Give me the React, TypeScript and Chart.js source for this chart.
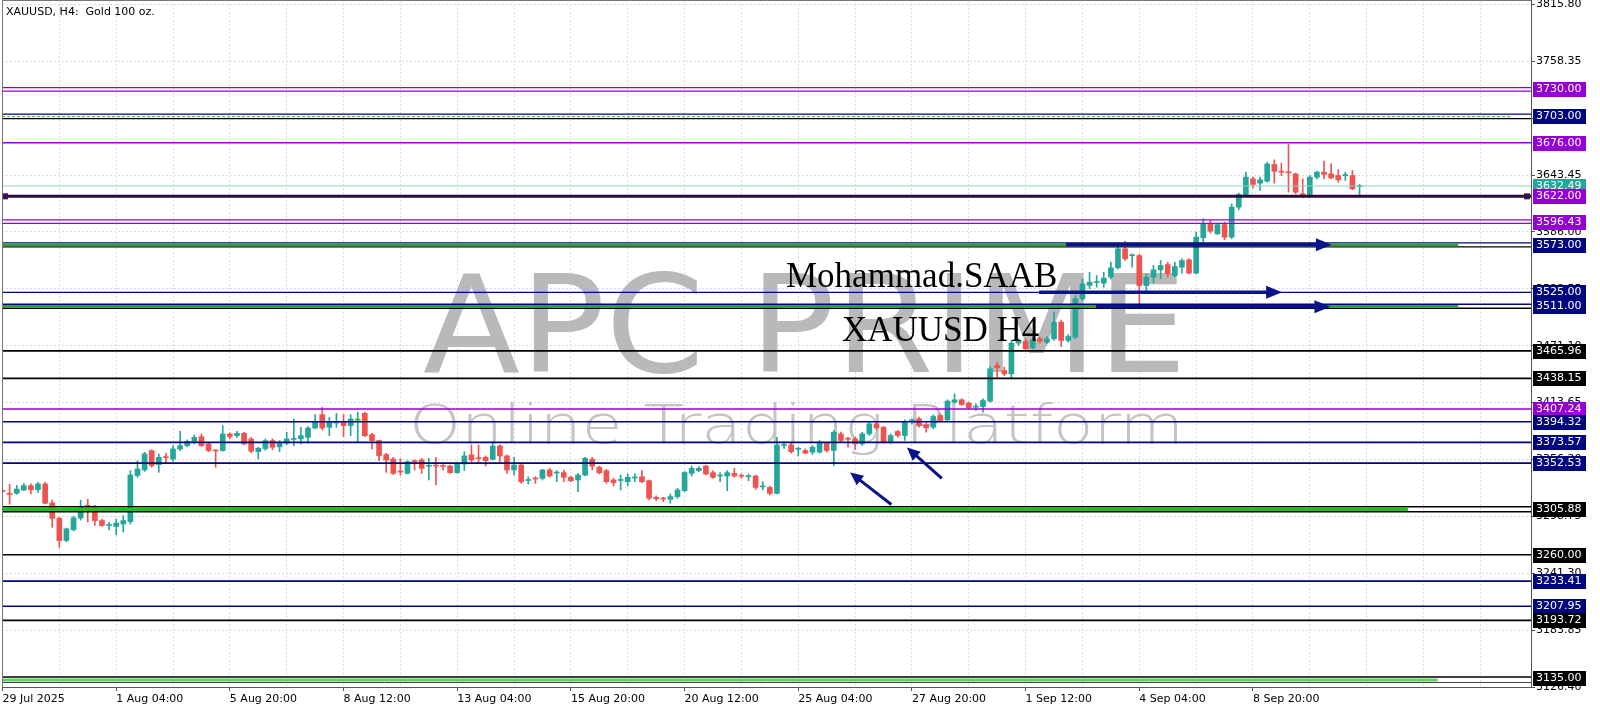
import { useEffect, useRef } from 'react';
import { Chart, registerables } from 'chart.js';

Chart.register(...registerables);

// ---------------- DATA ----------------
const OPEN = [
  3325, 3322, 3322, 3325.4, 3329.8, 3325.7, 3331.5, 3312.3, 3296.8, 3274.4,
  3285.2, 3297, 3310, 3309, 3294.5, 3289.5, 3288.5, 3291, 3293.4, 3340,
  3345.6, 3365.2, 3351, 3358.8, 3356.7, 3366.8, 3370.2, 3373.6, 3379.3, 3371.9,
  3365.5, 3365.2, 3382, 3380.3, 3382.6, 3376.9, 3364.1, 3367.2, 3375.3, 3369,
  3372.6, 3376.5, 3377, 3378.6, 3388, 3401.5, 3388.7, 3393, 3393.8, 3390.4,
  3396, 3402.8, 3381.3, 3375.3, 3361.1, 3356.7, 3344, 3342.2, 3354.5, 3355.7,
  3349.3, 3350.3, 3350, 3349.6, 3342.9, 3351.6, 3360.8, 3357.4, 3358.4, 3356.4,
  3369.9, 3359.8, 3345.6, 3350.6, 3335, 3337, 3337.2, 3345.6, 3342.5, 3342.9,
  3338.2, 3335.5, 3340.5, 3356.4, 3348.3, 3344.9, 3335.5, 3335, 3333.8, 3337.5,
  3338.8, 3334.8, 3318, 3317, 3316, 3318.7, 3324.7, 3342.2, 3345, 3349.6,
  3342.9, 3339.5, 3339.5, 3342.2, 3340, 3338.8, 3339.5, 3328.5, 3328, 3322,
  3370.2, 3371, 3366.5, 3365.3, 3363.6, 3363.6, 3372.7, 3365.3, 3382.1, 3377.2,
  3377, 3372, 3382.1, 3392.2, 3388.8, 3373.7, 3384.5, 3380.4, 3395.3, 3397.3,
  3391.2, 3388.8, 3400.6, 3396.3, 3414.1, 3416.5, 3413.1, 3409, 3409.7, 3415.1,
  3451.1, 3446.1, 3442.7, 3473.7, 3475.7, 3469, 3478.1, 3474.7, 3478.1, 3494.9,
  3476.4, 3479.8, 3518.5, 3532, 3535, 3534.3, 3540.4, 3549.8, 3569, 3562,
  3562.2, 3531.9, 3540.4, 3547.8, 3553.1, 3542, 3550.5, 3557.9, 3544.4, 3580.1,
  3594.2, 3584.1, 3593.5, 3580.8, 3611.1, 3622.8, 3639.7, 3635.3, 3637.3, 3654.2,
  3647, 3646.4, 3644.7, 3624.5, 3621.8, 3641.4, 3646.4, 3644.7, 3643.1, 3643,
  3643, 3632,
];
const HIGH = [
  3326, 3331, 3330, 3332, 3331.5, 3333.2, 3333.2, 3315.3, 3298, 3287,
  3299, 3315, 3316, 3310, 3296, 3292.8, 3296, 3299.5, 3345, 3355,
  3363.5, 3366, 3361.8, 3362.5, 3370.2, 3384.7, 3376, 3381, 3382, 3373.6,
  3366, 3390.4, 3383, 3384.7, 3383.7, 3378.6, 3368.5, 3377, 3377, 3375.3,
  3383.7, 3397.1, 3388.7, 3389.4, 3401.5, 3409, 3398.8, 3402.8, 3401.5, 3401.5,
  3403.9, 3403.9, 3382.6, 3375.9, 3362.5, 3358.4, 3357, 3355, 3355.7, 3357.4,
  3357.4, 3358.4, 3351, 3350.6, 3353, 3364.1, 3370.9, 3370.9, 3359.8, 3374.3,
  3370.9, 3360.8, 3358.4, 3351.6, 3338.8, 3338.8, 3346.3, 3347.3, 3345, 3345.6,
  3339.5, 3342.2, 3358.4, 3358.4, 3349.6, 3346.3, 3337.2, 3340.5, 3341.6, 3341.6,
  3345, 3335.5, 3319.4, 3318, 3321.4, 3327.1, 3344, 3349.6, 3349, 3350.6,
  3344.9, 3343, 3344.9, 3347.3, 3341.6, 3341.6, 3340.5, 3333.8, 3329.4, 3378.6,
  3374.3, 3372.6, 3368.5, 3367, 3370.3, 3375.4, 3373.7, 3385.5, 3383.8, 3378.8,
  3378.8, 3383.8, 3393.9, 3393.9, 3389.5, 3382.1, 3385.5, 3396.3, 3397.3, 3399,
  3392.9, 3401.3, 3402.3, 3416.5, 3422.5, 3417.5, 3414.1, 3412.4, 3417.5, 3449.5,
  3454.5, 3449.5, 3476.4, 3478.1, 3478.1, 3479.1, 3479.8, 3480.4, 3505, 3496.9,
  3482.4, 3521.8, 3538.7, 3545.4, 3542, 3545.4, 3555.5, 3570.7, 3576.7, 3563.9,
  3563.3, 3543.7, 3552.1, 3557.2, 3555.5, 3555.5, 3558.9, 3558.9, 3585.8, 3599.3,
  3597.6, 3594.9, 3595.9, 3614.4, 3625.2, 3646.4, 3641.4, 3641.4, 3656.5, 3658.9,
  3655.5, 3674.4, 3645.4, 3639.7, 3643, 3647.4, 3657.5, 3654.8, 3648.8, 3646.4,
  3648.1, 3634,
];
const LOW = [
  3323, 3311, 3321, 3324.7, 3321.4, 3323, 3311.3, 3287.7, 3267.6, 3273,
  3284, 3295, 3293, 3289.5, 3288.5, 3285, 3280, 3283, 3291, 3338,
  3344.2, 3348.3, 3343.2, 3352.4, 3354.4, 3365.2, 3369, 3372, 3369.2, 3364.1,
  3348.3, 3364.5, 3377, 3378.6, 3371.2, 3363, 3356.7, 3365.5, 3366, 3364,
  3371.2, 3370.2, 3372, 3372.6, 3387, 3386, 3380.3, 3388.7, 3379.3, 3380.3,
  3373.6, 3379.3, 3366.8, 3355, 3343.2, 3340.9, 3340.5, 3341.6, 3345.6, 3342.2,
  3335.5, 3330.5, 3345.6, 3342.2, 3342.2, 3345, 3354, 3353, 3349.6, 3355.7,
  3354, 3342.2, 3340.5, 3332.1, 3331.5, 3332.1, 3335.5, 3338.2, 3333.8, 3333.8,
  3333.8, 3323.7, 3339.5, 3345.6, 3341.6, 3332.1, 3329.4, 3325.4, 3329.4, 3333.8,
  3332.8, 3315.3, 3314.7, 3313.6, 3312, 3317, 3323.7, 3339.5, 3343.9, 3340.5,
  3337.2, 3333.8, 3324.7, 3338.2, 3337.2, 3334.8, 3326, 3325.4, 3320.4, 3321.4,
  3367.5, 3362.5, 3359.8, 3361.9, 3361.2, 3362.6, 3363.6, 3350.1, 3373.7, 3368.6,
  3366, 3370.3, 3380.4, 3386.2, 3372.7, 3372, 3378.8, 3375.4, 3392.2, 3388.8,
  3383.8, 3387.2, 3393.9, 3394.9, 3413.1, 3410.7, 3407.4, 3405.7, 3404, 3414.1,
  3439.4, 3441, 3437.7, 3471.4, 3466.3, 3468, 3473.7, 3473, 3476.4, 3470.4,
  3474.7, 3478.1, 3516.8, 3528.6, 3530.3, 3530.3, 3538.7, 3548.8, 3557.2, 3550.5,
  3511.7, 3525.2, 3534.3, 3538.7, 3540.4, 3540.4, 3544.4, 3543.7, 3543.7, 3575.7,
  3584.8, 3583.5, 3578.1, 3579.1, 3608.4, 3621.8, 3630.6, 3627.9, 3636.3, 3635.3,
  3643, 3626.2, 3624.5, 3620.5, 3620.5, 3639.7, 3639.7, 3639.7, 3636.3, 3638,
  3628.6, 3621.2,
];
const CLOSE = [
  3324, 3321, 3326.4, 3329.8, 3325.7, 3331.5, 3312, 3296.8, 3274.4, 3286.2,
  3297.3, 3308, 3308, 3294.5, 3289.5, 3290, 3292, 3294.5, 3340.6, 3346.6,
  3361.8, 3350, 3358.4, 3358, 3366.8, 3370.2, 3374.6, 3378.6, 3370.2, 3365.2,
  3364.8, 3382, 3379.3, 3382.6, 3371.9, 3364.5, 3367.5, 3375.3, 3368.5, 3373.6,
  3377, 3377.2, 3380.3, 3388, 3394.8, 3388, 3393.8, 3394, 3390.4, 3397.1,
  3396.4, 3380.3, 3375.3, 3360.1, 3355.7, 3342.2, 3343.5, 3354, 3354, 3347.3,
  3350, 3349.6, 3349.3, 3342.9, 3351.6, 3359.8, 3355.7, 3357, 3355, 3369.9,
  3359.8, 3345.6, 3350.6, 3333.8, 3335.5, 3336.5, 3345.6, 3339.5, 3343, 3338.2,
  3334.8, 3340.5, 3357.4, 3349.6, 3342.9, 3333.8, 3332.8, 3335.8, 3338.2, 3338.4,
  3333.8, 3317, 3316.6, 3316.3, 3318.7, 3325.4, 3343, 3347.3, 3347.3, 3341.6,
  3338.2, 3340, 3342.9, 3339.5, 3339.3, 3339.2, 3328, 3329.5, 3322, 3370.9,
  3371, 3364.1, 3367, 3362.6, 3368.6, 3373.7, 3365.3, 3383.8, 3375.4, 3376.6,
  3372, 3382.1, 3392.2, 3388.2, 3373.7, 3380.4, 3380.4, 3393.9, 3395.6, 3390.5,
  3388.2, 3399.6, 3395.6, 3415.1, 3416.5, 3411.7, 3408.4, 3409.4, 3415.8, 3447.8,
  3448.8, 3442.7, 3473.7, 3476.4, 3468, 3477.1, 3475.7, 3478.1, 3494.9, 3476.4,
  3480.4, 3518.5, 3533.6, 3535.3, 3535.5, 3539.4, 3549.8, 3569, 3558.9, 3562.5,
  3531.9, 3540.4, 3547.8, 3552.1, 3543.7, 3551.1, 3557.2, 3544.4, 3580.8, 3594.2,
  3586.8, 3593.5, 3580.8, 3611.1, 3623.9, 3641.4, 3634, 3638.7, 3654.8, 3647.4,
  3646.4, 3645.7, 3626.2, 3621.8, 3641.4, 3646.4, 3644.1, 3640.7, 3638.7, 3643.5,
  3629.6, 3632.49,
];

const X_LABELS = [
  '29 Jul 2025', '1 Aug 04:00', '5 Aug 20:00', '8 Aug 12:00', '13 Aug 04:00', '15 Aug 20:00',
  '20 Aug 12:00', '25 Aug 04:00', '27 Aug 20:00', '1 Sep 12:00', '4 Sep 04:00', '8 Sep 20:00',
];
const BARS_PER_LABEL = 16;
const Y_TICKS = [
  3815.8, 3758.35, 3700.9, 3643.45, 3586.0, 3528.55, 3471.1, 3413.65, 3356.2,
  3298.75, 3241.3, 3183.85, 3126.4,
];
const Y_MIN = 3126.4;
const Y_MAX = 3820.3;
const X_MIN = -0.07;
const X_MAX = 215.13;

// horizontal price levels (values)
const LEVEL_PRICES = [
  3730.0, 3703.0, 3676.0, 3632.49, 3622.0, 3596.43, 3573.0, 3525.0, 3511.0, 3465.96,
  3438.15, 3407.24, 3394.32, 3373.57, 3352.53, 3305.88, 3260.0, 3233.41, 3207.95,
  3193.72, 3135.0,
];

// ---------------- STYLE ----------------
const PURPLE = '#9400d3';
const NAVY = '#00067e';
const TEAL_BOX = '#26a69a';
const BULL = '#26a69a';
const BEAR = '#ef5350';
const FONT = '"DejaVu Sans", "Liberation Sans", sans-serif';

const LEVEL_STYLE = [
  'pd', 'ng', 'p', 'cur', 'dk', 'pd', 'gb', 'n1', 'gb', 'k',
  'k', 'p', 'n', 'n', 'n', 'gbb', 'k', 'n', 'n',
  'k', 'gbl',
];
const LEVEL_BOX = [
  PURPLE, NAVY, PURPLE, TEAL_BOX, PURPLE, PURPLE, NAVY, NAVY, NAVY, '#000',
  '#000', PURPLE, NAVY, NAVY, NAVY, '#000', '#000', NAVY, NAVY,
  '#000', '#000',
];
// bar index where the green filling of a band stops
const GREEN_END: Record<string, number> = { gb: 204.9, gbb: 197.8, gbl: 202 };

// arrows: [barFrom, priceFrom, barTo, priceTo, lineWidth]
const ARROWS: number[][] = [
  [149.7, 3573.0, 187.1, 3573.0, 3.5],
  [145.9, 3525.0, 180.1, 3525.0, 3.5],
  [153.9, 3510.5, 186.9, 3510.5, 3.5],
  [125.1, 3310.7, 119.3, 3343.0, 3],
  [132.2, 3337.0, 127.3, 3368.3, 3],
];

function hline(ctx: CanvasRenderingContext2D, y: number, color: string, w: number, x0: number, x1: number, dash: number[] = []) {
  ctx.beginPath();
  ctx.setLineDash(dash);
  ctx.strokeStyle = color;
  ctx.lineWidth = w;
  ctx.moveTo(x0, y);
  ctx.lineTo(x1, y);
  ctx.stroke();
  ctx.setLineDash([]);
}

function arrow(ctx: CanvasRenderingContext2D, x0: number, y0: number, x1: number, y1: number, w: number) {
  const ang = Math.atan2(y1 - y0, x1 - x0);
  const hl = w > 3.2 ? 16 : 13;
  const hw = w > 3.2 ? 6.5 : 6;
  const bx = x1 - hl * Math.cos(ang);
  const by = y1 - hl * Math.sin(ang);
  ctx.strokeStyle = '#0a1488';
  ctx.fillStyle = '#0a1488';
  ctx.lineWidth = w;
  ctx.beginPath();
  ctx.moveTo(x0, y0);
  ctx.lineTo(bx + Math.cos(ang), by + Math.sin(ang));
  ctx.stroke();
  ctx.beginPath();
  ctx.moveTo(x1, y1);
  ctx.lineTo(bx + hw * Math.sin(ang), by - hw * Math.cos(ang));
  ctx.lineTo(bx - hw * Math.sin(ang), by + hw * Math.cos(ang));
  ctx.closePath();
  ctx.fill();
}

const overlay = {
  id: 'overlay',
  beforeDatasetsDraw(chart: any) {
    const { ctx, chartArea: a } = chart;
    ctx.save();
    ctx.beginPath();
    ctx.rect(a.left, a.top, a.right - a.left, a.bottom - a.top);
    ctx.clip();
    // watermark logo
    ctx.fillStyle = '#b9b9b9';
    ctx.textBaseline = 'alphabetic';
    ctx.textAlign = 'left';
    ctx.font = `136px ${FONT}`;
    const t1 = 'APC PRIME';
    const w1 = ctx.measureText(t1).width;
    ctx.save();
    ctx.translate(423, 372);
    ctx.scale(764 / w1, 1);
    ctx.fillText(t1, 0, 0);
    ctx.restore();
    ctx.fillStyle = '#c4c4c4';
    ctx.font = `200 54px ${FONT}`;
    const t2 = 'Online Trading Platform';
    const w2 = ctx.measureText(t2).width;
    ctx.save();
    ctx.translate(409, 443);
    ctx.scale(775 / w2, 1);
    ctx.fillText(t2, 0, 0);
    ctx.restore();
    ctx.restore();
  },
  afterDatasetsDraw(chart: any) {
    const { ctx, chartArea: a, scales } = chart;
    const ys = scales.y;
    const xs = scales.x;
    const L = a.left;
    const R = a.right;
    ctx.save();
    ctx.beginPath();
    ctx.rect(a.left, a.top, a.right - a.left, a.bottom - a.top);
    ctx.clip();
    LEVEL_PRICES.forEach((p, i) => {
      const y = ys.getPixelForValue(p);
      const st = LEVEL_STYLE[i];
      switch (st) {
        case 'p':
          hline(ctx, y, PURPLE, 1.5, L, R);
          break;
        case 'pd':
          hline(ctx, y - 1.8, PURPLE, 1.3, L, R);
          hline(ctx, y + 1.8, PURPLE, 1.3, L, R);
          break;
        case 'n':
          hline(ctx, y, NAVY, 1.7, L, R);
          break;
        case 'n1':
          hline(ctx, y, NAVY, 1.2, L, R);
          break;
        case 'k':
          hline(ctx, y, '#000', 1.7, L, R);
          break;
        case 'cur':
          hline(ctx, y, '#8ccfc8', 1, L, R);
          break;
        case 'dk':
          hline(ctx, y, '#2b0b3a', 3, L, R);
          ctx.fillStyle = '#3a1050';
          ctx.fillRect(L, y - 3, 6, 6);
          ctx.fillRect(R - 7, y - 3, 6, 6);
          break;
        case 'ng':
          hline(ctx, y - 2, NAVY, 1.4, L, R);
          hline(ctx, y + 0.5, '#3dbb3d', 1, L, R - 20, [3, 2]);
          hline(ctx, y + 2.5, '#000', 1.4, L, R);
          break;
        case 'gb':
          hline(ctx, y - 2, NAVY, 1.4, L, R);
          hline(ctx, y + 2, '#000', 1.4, L, R);
          hline(ctx, y, '#2ea043', 2.6, L, xs.getPixelForValue(GREEN_END.gb));
          break;
        case 'gbb':
          hline(ctx, y - 2.5, '#000', 1.6, L, R);
          hline(ctx, y + 2.5, '#000', 1.6, L, R);
          hline(ctx, y, '#1fbf1f', 3.4, L, xs.getPixelForValue(GREEN_END.gbb));
          break;
        case 'gbl':
          hline(ctx, y - 1.5, '#000', 1.6, L, R);
          hline(ctx, y + 1.5, '#5ed35e', 3, L, xs.getPixelForValue(GREEN_END.gbl));
          hline(ctx, y + 4, '#444', 1, L, R);
          break;
      }
    });
    ARROWS.forEach(([b0, p0, b1, p1, w]) => {
      arrow(ctx, xs.getPixelForValue(b0), ys.getPixelForValue(p0), xs.getPixelForValue(b1), ys.getPixelForValue(p1), w);
    });
    ctx.fillStyle = '#000';
    ctx.font = '35px "Liberation Serif", "DejaVu Serif", serif';
    ctx.textAlign = 'left';
    ctx.textBaseline = 'alphabetic';
    ctx.fillText('Mohammad.SAAB', 786, 287);
    ctx.fillText('XAUUSD H4', 842, 341);
    ctx.restore();
  },
  afterDraw(chart: any) {
    const { ctx, chartArea: a, scales } = chart;
    const ys = scales.y;
    ctx.save();
    // frame (left / top)
    ctx.strokeStyle = '#777';
    ctx.lineWidth = 1;
    ctx.beginPath();
    ctx.moveTo(a.left + 0.5, a.bottom);
    ctx.lineTo(a.left + 0.5, a.top + 0.5);
    ctx.lineTo(a.right, a.top + 0.5);
    ctx.stroke();
    // price boxes
    ctx.font = `11px ${FONT}`;
    ctx.textBaseline = 'middle';
    ctx.textAlign = 'left';
    LEVEL_PRICES.forEach((p, i) => {
      const y = Math.round(ys.getPixelForValue(p));
      ctx.fillStyle = LEVEL_BOX[i];
      ctx.fillRect(a.right + 2, y - 7, 53, 15);
      ctx.fillStyle = '#fff';
      ctx.fillText(p.toFixed(2), a.right + 5, y + 0.5);
    });
    // title
    ctx.fillStyle = '#000';
    ctx.fillText('XAUUSD, H4:  Gold 100 oz.', 6, 12);
    ctx.restore();
  },
};

export default function App() {
  const ref = useRef<HTMLCanvasElement>(null);
  useEffect(() => {
    const canvas = ref.current;
    if (!canvas) return;
    const idx = OPEN.map((_, i) => i);
    const gridTicks: number[] = [];
    for (let v = 0; v <= 208; v += 8) gridTicks.push(v);
    const colorOf = (i: number) => (CLOSE[i] >= OPEN[i] ? BULL : BEAR);
    const chart = new Chart(canvas, {
      type: 'bar',
      data: {
        datasets: [
          {
            label: 'body',
            data: idx.map((i) => ({ x: i, y: [OPEN[i], CLOSE[i]] })) as any,
            backgroundColor: idx.map(colorOf),
            barThickness: 5,
            minBarLength: 1,
            grouped: false,
            borderWidth: 0,
          } as any,
          {
            label: 'wick',
            data: idx.map((i) => ({ x: i, y: [LOW[i], HIGH[i]] })) as any,
            backgroundColor: idx.map(colorOf),
            barThickness: 1,
            minBarLength: 1,
            grouped: false,
            borderWidth: 0,
          } as any,
        ],
      },
      options: {
        animation: false,
        responsive: false,
        devicePixelRatio: 1,
        layout: { padding: { left: 2, top: 0, right: 0, bottom: 0 } },
        plugins: { legend: { display: false }, tooltip: { enabled: false } },
        scales: {
          x: {
            type: 'linear',
            min: X_MIN,
            max: X_MAX,
            offset: false,
            afterBuildTicks: (s: any) => {
              s.ticks = gridTicks.map((v) => ({ value: v }));
            },
            afterFit: (s: any) => {
              s.height = 24;
              s.paddingLeft = 0;
              s.paddingRight = 0;
            },
            ticks: {
              autoSkip: false,
              maxRotation: 0,
              align: 'start',
              padding: 2,
              color: '#000',
              font: { family: FONT, size: 11 },
              callback: (v: any) => {
                const n = Number(v);
                if (n % BARS_PER_LABEL !== 0) return '';
                return X_LABELS[n / BARS_PER_LABEL] ?? '';
              },
            },
            grid: {
              offset: false,
              color: '#dcdcdc',
              lineWidth: 1,
              tickLength: 4,
              tickColor: (c: any) => {
                const v = c.tick ? c.tick.value : -1;
                return v % BARS_PER_LABEL === 0 && v / BARS_PER_LABEL < X_LABELS.length ? '#555' : 'rgba(0,0,0,0)';
              },
            },
            border: { display: true, color: '#555', width: 1, dash: [2, 2] },
          } as any,
          y: {
            type: 'linear',
            position: 'right',
            min: Y_MIN,
            max: Y_MAX,
            beginAtZero: false,
            afterBuildTicks: (s: any) => {
              s.ticks = Y_TICKS.map((v) => ({ value: v }));
            },
            afterFit: (s: any) => {
              s.width = 69;
              s.paddingTop = 0;
              s.paddingBottom = 0;
            },
            ticks: {
              autoSkip: false,
              padding: 1,
              color: '#000',
              font: { family: FONT, size: 11 },
              callback: (v: any) => Number(v).toFixed(2),
            },
            grid: { color: '#dcdcdc', lineWidth: 1, tickLength: 4, tickColor: '#555' },
            border: { display: true, color: '#555', width: 1, dash: [2, 2] },
          } as any,
        },
      },
      plugins: [overlay],
    });
    return () => chart.destroy();
  }, []);
  return (
    <div style={{ position: 'absolute', left: 0, top: 0, width: 1600, height: 711, background: '#fff' }}>
      <canvas ref={ref} width={1600} height={711} style={{ display: 'block', width: 1600, height: 711 }} />
    </div>
  );
}
